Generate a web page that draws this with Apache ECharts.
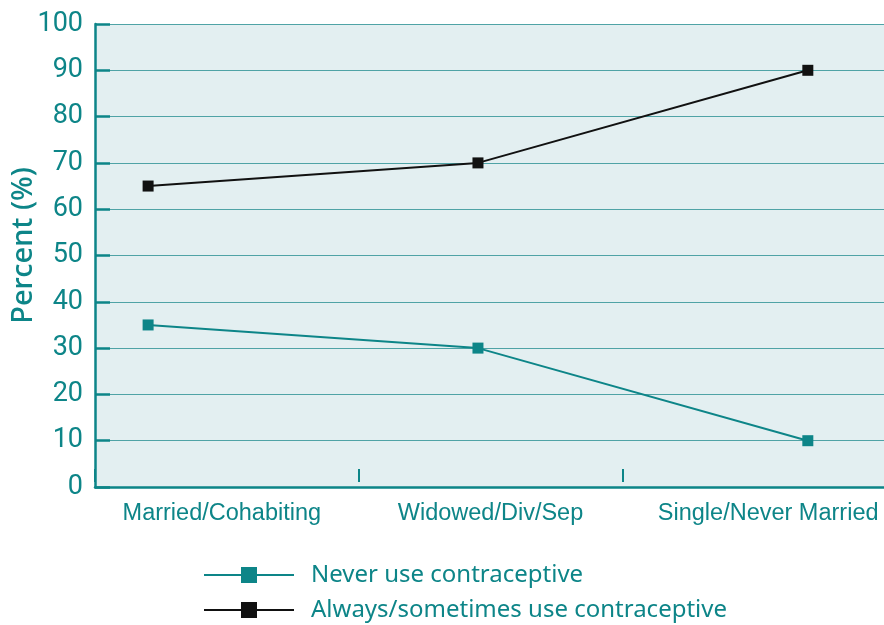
<!DOCTYPE html>
<html>
<head>
<meta charset="utf-8">
<script src="https://cdn.jsdelivr.net/npm/echarts@6/dist/echarts.min.js"></script>
<style>
  html, body { margin: 0; padding: 0; background: #ffffff; }
  #chart { width: 884px; height: 625px; }
</style>
</head>
<body>
<div id="chart"></div>
<script>
// Marital status groups and the share of respondents in each contraceptive-use group
const categories = ['Married/Cohabiting', 'Widowed/Div/Sep', 'Single/Never Married'];
const neverUse = [35, 30, 10];
const alwaysSometimesUse = [65, 70, 90];
const seriesNames = ['Never use contraceptive', 'Always/sometimes use contraceptive'];
const yTicks = [0, 10, 20, 30, 40, 50, 60, 70, 80, 90, 100];

const TEAL = '#0d8588';
const chart = echarts.init(document.getElementById('chart'));

// Points sit at positions 0,1,2 on a value axis that spans a little past them
const pointSeries = (vals) => vals.map((v, i) => [i, v]);

// Nudge the outer category labels slightly outward
const labelShift = [[0, 10, 0, 0], [0, 0, 0, 0], [0, 0, 0, 28]];
const categoryData = categories.map((c, i) => ({ value: c, textStyle: { padding: labelShift[i] } }));

const legendBase = {
  orient: 'vertical', left: 198,
  itemWidth: 90, itemHeight: 20,
  textStyle: { color: TEAL, fontSize: 24, fontFamily: 'Noto Sans', padding: [0, 0, 0, 12] }
};

chart.setOption({
  animation: false,
  grid: { left: 95, right: -2, top: 24, bottom: 138, containLabel: false, outerBoundsMode: 'none',
          show: true, backgroundColor: '#e3eff1', borderWidth: 0 },
  legend: [
    Object.assign({}, legendBase, { top: 558, data: [seriesNames[0]] }),
    Object.assign({}, legendBase, { top: 593, data: [seriesNames[1]] })
  ],
  xAxis: [
    {
      type: 'category', data: categoryData, boundaryGap: true, offset: -5,
      axisLine: { show: false },
      axisTick: { show: true, interval: 0, inside: true, length: 13, lineStyle: { color: TEAL, width: 2 } },
      axisLabel: { color: TEAL, fontSize: 23.5, fontFamily: 'Liberation Sans', margin: 20,
                   interval: 0, hideOverlap: false },
      splitLine: { show: false }
    },
    {
      type: 'value', min: -0.161, max: 2.237, position: 'bottom',
      axisLine: { show: true, onZero: false, lineStyle: { color: TEAL, width: 2.5 } },
      axisTick: { show: false }, axisLabel: { show: false }, splitLine: { show: false }
    }
  ],
  yAxis: {
    type: 'value', min: yTicks[0], max: yTicks[yTicks.length - 1], interval: 10,
    name: 'Percent (%)', nameLocation: 'middle', nameGap: 57, nameMoveOverlap: false,
    nameTextStyle: { color: TEAL, fontSize: 29, fontWeight: 500, fontFamily: 'Noto Sans',
                     padding: [0, 0, 0, 20] },
    axisLine: { show: true, onZero: false, lineStyle: { color: TEAL, width: 2.5 } },
    axisTick: { show: true, inside: true, length: 15, lineStyle: { color: TEAL, width: 2.5 } },
    axisLabel: { color: TEAL, fontSize: 27, fontFamily: 'Roboto', margin: 12 },
    splitLine: { show: true, lineStyle: { color: '#4fa3a6', width: 1.2 } }
  },
  series: [
    {
      name: seriesNames[0], type: 'line', xAxisIndex: 1,
      data: pointSeries(neverUse),
      symbol: 'rect', symbolSize: 11,
      itemStyle: { color: TEAL },
      lineStyle: { color: TEAL, width: 2 }
    },
    {
      name: seriesNames[1], type: 'line', xAxisIndex: 1,
      data: pointSeries(alwaysSometimesUse),
      symbol: 'rect', symbolSize: 11,
      itemStyle: { color: '#111111' },
      lineStyle: { color: '#111111', width: 2 }
    }
  ]
});
</script>
</body>
</html>
